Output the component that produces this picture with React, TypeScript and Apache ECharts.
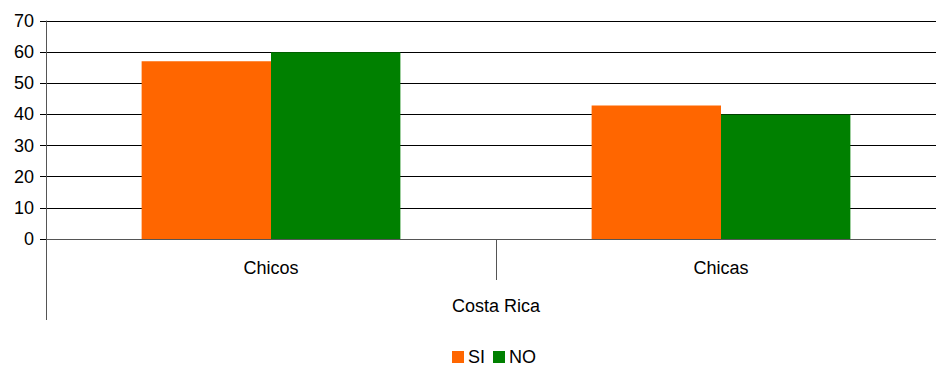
import React, { useEffect, useRef } from "react";
import * as echarts from "echarts";

const categories = ["Chicos", "Chicas"];
const groupLabel = ["Costa Rica"];
const siValues = [57.1, 42.9];
const noValues = [60, 40];
const seriesNames = ["SI", "NO"];

const FONT = "'Liberation Sans', Arial, sans-serif";

export default function App() {
  const ref = useRef<HTMLDivElement>(null);
  useEffect(() => {
    if (!ref.current) return;
    const chart = echarts.init(ref.current, undefined, { renderer: "svg" });
    chart.setOption({
      animation: false,
      backgroundColor: "#ffffff",
      textStyle: { fontFamily: FONT },
      grid: { left: 46, right: 0, top: 21, bottom: 128, containLabel: false },
      legend: {
        data: seriesNames,
        top: 343,
        left: 447,
        icon: "rect",
        itemWidth: 12,
        itemHeight: 12,
        itemGap: 8,
        textStyle: { fontSize: 18, color: "#000", fontFamily: FONT, padding: [0, 0, 0, -1] },
      },
      xAxis: [
        {
          type: "category",
          data: categories,
          position: "bottom",
          axisLine: { show: true, lineStyle: { color: "#555", width: 1 } },
          axisTick: { show: true, length: 41, lineStyle: { color: "#555" } },
          axisLabel: { margin: 20, fontSize: 18, color: "#000", fontFamily: FONT },
          splitLine: { show: false },
        },
        {
          type: "category",
          data: groupLabel,
          position: "bottom",
          offset: 0,
          axisLine: { show: false },
          axisTick: { show: true, length: 81, lineStyle: { color: "#555" } },
          axisLabel: { margin: 58, fontSize: 18, color: "#000", fontFamily: FONT },
          splitLine: { show: false },
        },
      ],
      yAxis: {
        type: "value",
        min: 0,
        max: 70,
        interval: 10,
        axisLine: { show: true, lineStyle: { color: "#555", width: 1 } },
        axisTick: { show: true, length: 6, lineStyle: { color: "#000" } },
        axisLabel: { margin: 12, fontSize: 18, color: "#000", fontFamily: FONT },
        splitLine: { show: true, lineStyle: { color: "#000", width: 1 } },
      },
      series: [
        {
          name: seriesNames[0],
          type: "bar",
          data: siValues,
          xAxisIndex: 0,
          barGap: "0%",
          barCategoryGap: "42.5%",
          itemStyle: { color: "#FF6600" },
        },
        {
          name: seriesNames[1],
          type: "bar",
          data: noValues,
          xAxisIndex: 0,
          barGap: "0%",
          barCategoryGap: "42.5%",
          itemStyle: { color: "#008000" },
        },
      ],
    });
    return () => chart.dispose();
  }, []);
  return (
    <div
      style={{ position: "fixed", left: 0, top: 0, width: 936, height: 367, overflow: "hidden", background: "#fff" }}
    >
      <div ref={ref} style={{ width: 946, height: 367 }} />
    </div>
  );
}
